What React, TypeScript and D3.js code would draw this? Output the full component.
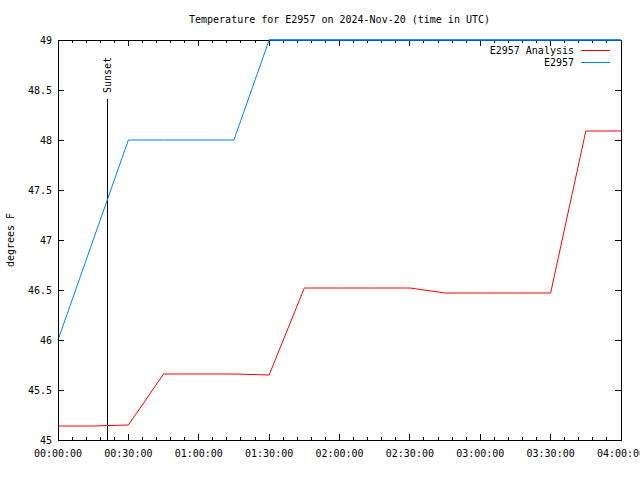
import React from "react";
import * as d3 from "d3";

const title = "Temperature for E2957 on 2024-Nov-20 (time in UTC)";
const yLabel = "degrees F";

// time in minutes after 00:00 UTC
const analysisTimes = [0, 15, 30, 45, 60, 75, 90, 105, 120, 135, 150, 165, 180, 195, 210, 225, 240];
const analysisValues = [45.14, 45.14, 45.15, 45.66, 45.66, 45.66, 45.65, 46.52, 46.52, 46.52, 46.52, 46.47, 46.47, 46.47, 46.47, 48.09, 48.09];

const obsTimes = [0, 15, 30, 45, 60, 75, 90, 105, 120, 135, 150, 165, 180, 195, 210, 225, 240];
const obsValues = [46, 47, 48, 48, 48, 48, 49, 49, 49, 49, 49, 49, 49, 49, 49, 49, 49];

const xTickValues = [0, 30, 60, 90, 120, 150, 180, 210, 240];
const xTickLabels = ["00:00:00", "00:30:00", "01:00:00", "01:30:00", "02:00:00", "02:30:00", "03:00:00", "03:30:00", "04:00:00"];
const yTickValues = [45, 45.5, 46, 46.5, 47, 47.5, 48, 48.5, 49];
const yTickLabels = ["45", "45.5", "46", "46.5", "47", "47.5", "48", "48.5", "49"];

const sunsetTime = 21;
const sunsetLabel = "Sunset";
const seriesNames = ["E2957 Analysis", "E2957"];
const seriesColors = ["#ff0000", "#0080ff"];

const W = 640, H = 480;
const L = 58, R = 621, T = 40, B = 440;
const FONT = "'DejaVu Sans Mono', monospace";

export default function App() {
  const x = d3.scaleLinear().domain([0, 240]).range([L, R]);
  const y = d3.scaleLinear().domain([45, 49]).range([B, T]);
  const minorTicks = d3.range(0, 241, 6);

  const mk = (ts: number[], vs: number[]) =>
    d3.line<number>().x((_, i) => x(ts[i])).y((v) => y(v))(vs) || "";

  const analysisPath = mk(analysisTimes, analysisValues);
  const obsPath = mk(obsTimes, obsValues);

  return (
    <svg width={W} height={H} style={{ position: "absolute", left: 0, top: 0, background: "#fff" }} fontFamily={FONT} fontSize={10}>
      <rect x={0} y={0} width={W} height={H} fill="#fff" />
      <text x={(L + R) / 2} y={23} textAnchor="middle">{title}</text>

      {/* ticks */}
      <g stroke="#000" shapeRendering="crispEdges">
        {minorTicks.map((m) => {
          const major = m % 30 === 0;
          const len = major ? 6 : 3;
          return (
            <g key={"mx" + m}>
              <line x1={x(m)} x2={x(m)} y1={B} y2={B - len} />
              <line x1={x(m)} x2={x(m)} y1={T} y2={T + len} />
            </g>
          );
        })}
        {yTickValues.map((v) => (
          <g key={"y" + v}>
            <line x1={L} x2={L + 6} y1={y(v)} y2={y(v)} />
            <line x1={R} x2={R - 6} y1={y(v)} y2={y(v)} />
          </g>
        ))}
      </g>

      {/* tick labels */}
      {yTickValues.map((v, i) => (
        <text key={"yl" + v} x={52} y={y(v) + 4} textAnchor="end">{yTickLabels[i]}</text>
      ))}
      {xTickValues.map((m, i) => (
        <text key={"xl" + m} x={x(m)} y={457} textAnchor="middle">{xTickLabels[i]}</text>
      ))}

      <text transform={`translate(14,${240}) rotate(-90)`} textAnchor="middle">{yLabel}</text>

      {/* sunset */}
      <line x1={x(sunsetTime)} x2={x(sunsetTime)} y1={B} y2={99} stroke="#000" shapeRendering="crispEdges" />
      <text transform={`translate(${x(sunsetTime) + 4},93) rotate(-90)`} textAnchor="start">{sunsetLabel}</text>

      {/* series */}
      <path d={analysisPath} fill="none" stroke={seriesColors[0]} strokeWidth={1} />
      <path d={obsPath} fill="none" stroke={seriesColors[1]} strokeWidth={1} />

      {/* border */}
      <rect x={L} y={T} width={R - L} height={B - T} fill="none" stroke="#000" shapeRendering="crispEdges" />
      <path d={`M${x(90)},${y(49)}H${R}`} stroke={seriesColors[1]} strokeWidth={1.5} fill="none" />

      {/* legend */}
      {seriesNames.map((n, i) => (
        <g key={n}>
          <text x={574} y={54 + i * 12} textAnchor="end">{n}</text>
          <line x1={581} x2={610} y1={50 + i * 12} y2={50 + i * 12} stroke={seriesColors[i]} shapeRendering="crispEdges" />
        </g>
      ))}
    </svg>
  );
}
